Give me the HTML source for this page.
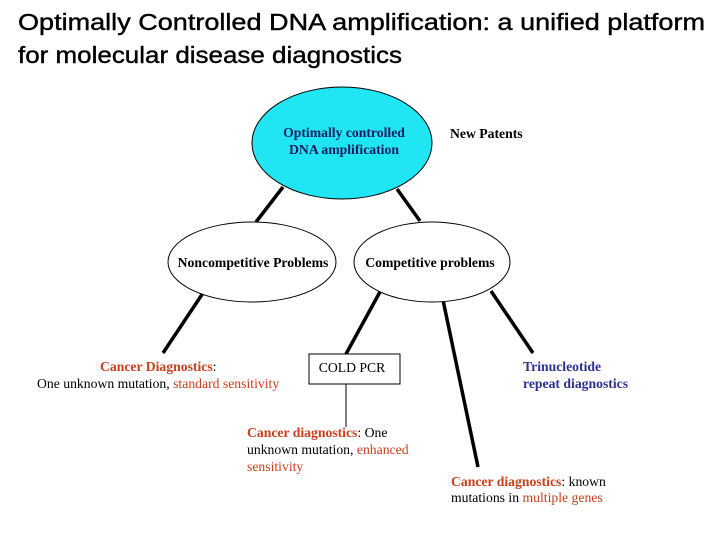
<!DOCTYPE html>
<html><head><meta charset="utf-8"><style>
html,body{margin:0;padding:0;background:#fff;}
svg{display:block;}
.t{font-family:"Liberation Serif",serif;font-size:13.7px;}
.b{font-weight:bold;}
.red{fill:#c8401e;}
.blue{fill:#2e3192;}
</style></head><body>
<svg width="720" height="540" viewBox="0 0 720 540" xmlns="http://www.w3.org/2000/svg">
<text x="18" y="30" font-family="Liberation Sans, sans-serif" font-size="23" textLength="687" lengthAdjust="spacingAndGlyphs" stroke="#000" stroke-width="0.4">Optimally Controlled DNA amplification: a unified platform</text>
<text x="18" y="63" font-family="Liberation Sans, sans-serif" font-size="23" textLength="384" lengthAdjust="spacingAndGlyphs" stroke="#000" stroke-width="0.4">for molecular disease diagnostics</text>

<g stroke="#000" stroke-width="3.5" stroke-linecap="butt">
<line x1="283" y1="187" x2="256" y2="222"/>
<line x1="397" y1="189" x2="420" y2="221"/>
<line x1="203" y1="293" x2="163" y2="353"/>
<line x1="381" y1="290" x2="346" y2="354"/>
<line x1="443" y1="300" x2="478" y2="467"/>
<line x1="491" y1="291" x2="533" y2="353"/>
</g>
<line x1="346" y1="384" x2="346" y2="427" stroke="#000" stroke-width="1"/>

<ellipse cx="342" cy="143" rx="90" ry="56" fill="#1fe6f2" stroke="#000" stroke-width="1"/>
<ellipse cx="252" cy="262" rx="84" ry="40" fill="#fff" stroke="#000" stroke-width="1"/>
<ellipse cx="432" cy="262" rx="78" ry="40" fill="#fff" stroke="#000" stroke-width="1"/>

<text class="t b" x="344" y="137" text-anchor="middle" fill="#1a1a60" font-size="14">Optimally controlled</text>
<text class="t b" x="344" y="154" text-anchor="middle" fill="#1a1a60" font-size="14">DNA amplification</text>
<text class="t b" x="450" y="138" font-size="14">New Patents</text>
<text class="t b" x="253" y="267" text-anchor="middle" font-size="11">Noncompetitive Problems</text>
<text class="t b" x="430" y="267" text-anchor="middle" font-size="11">Competitive problems</text>

<rect x="309" y="354" width="91" height="30" fill="#fff" stroke="#000" stroke-width="1"/>
<text class="t" x="352" y="372" text-anchor="middle">COLD PCR</text>

<text class="t" x="100" y="371"><tspan class="b red">Cancer Diagnostics</tspan>:</text>
<text class="t" x="37" y="388">One unknown mutation, <tspan class="red">standard sensitivity</tspan></text>

<text class="t" x="247" y="437"><tspan class="b red">Cancer diagnostics</tspan>: One</text>
<text class="t" x="247" y="454">unknown mutation, <tspan class="red">enhanced</tspan></text>
<text class="t red" x="247" y="471">sensitivity</text>

<text class="t b blue" x="523" y="371">Trinucleotide</text>
<text class="t b blue" x="523" y="388">repeat diagnostics</text>

<text class="t" x="451" y="486"><tspan class="b red">Cancer diagnostics</tspan>: known</text>
<text class="t" x="451" y="502">mutations in <tspan class="red">multiple genes</tspan></text>
</svg>
</body></html>
